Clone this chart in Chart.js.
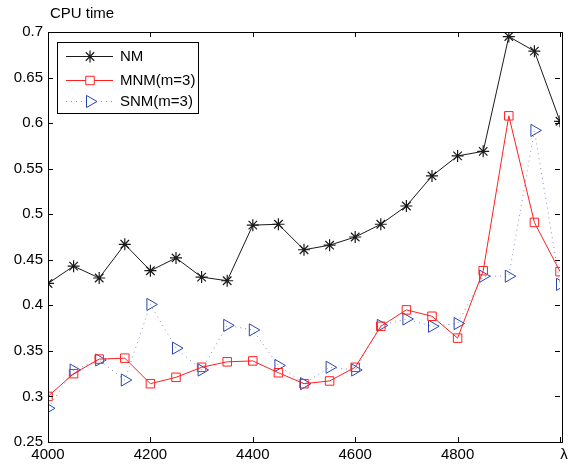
<!DOCTYPE html>
<html>
<head>
<meta charset="utf-8">
<script src="https://cdn.jsdelivr.net/npm/chart.js@4"></script>
<style>
  html, body { margin: 0; padding: 0; background: #fff; }
  #wrap { width: 568px; height: 468px; }
</style>
</head>
<body>
<div id="wrap"><canvas id="myChart" width="568" height="468"></canvas></div>
<script>
// lambda values (x axis)
const lambdas = [4000, 4050, 4100, 4150, 4200, 4250, 4300, 4350, 4400, 4450, 4500,
                 4550, 4600, 4650, 4700, 4750, 4800, 4850, 4900, 4950, 5000];
// CPU time for each method
const nm  = [0.424, 0.443, 0.430, 0.467, 0.438, 0.452, 0.431, 0.427, 0.488, 0.489, 0.461,
             0.466, 0.475, 0.489, 0.509, 0.542, 0.564, 0.569, 0.695, 0.679, 0.602];
const mnm = [0.300, 0.325, 0.341, 0.342, 0.314, 0.321, 0.332, 0.338, 0.339, 0.326, 0.314,
             0.317, 0.332, 0.377, 0.395, 0.388, 0.364, 0.438, 0.608, 0.491, 0.437];
const snm = [0.287, 0.329, 0.340, 0.318, 0.401, 0.353, 0.329, 0.378, 0.373, 0.334, 0.314,
             0.332, 0.329, 0.378, 0.385, 0.377, 0.380, 0.432, 0.432, 0.592, 0.423];
const seriesNames = ['NM', 'MNM(m=3)', 'SNM(m=3)'];
const yTicks = [0.25, 0.3, 0.35, 0.4, 0.45, 0.5, 0.55, 0.6, 0.65, 0.7];
const xTicks = [4000, 4200, 4400, 4600, 4800, 5000];

const FONT = 'Liberation Sans, Arial, Helvetica, sans-serif';

function pts(ys){
    return ys.map((y, i) => ({x: lambdas[i], y: y}));
}

// frame, inward ticks, axis titles and legend, MATLAB style
const matlabFrame = {
    id: 'matlabFrame',
    afterDraw(chart){
        const ctx = chart.ctx;
        const a = chart.chartArea;
        const xs = chart.scales.x, ys = chart.scales.y;
        ctx.save();
        ctx.strokeStyle = '#000';
        ctx.lineWidth = 1;
        ctx.strokeRect(a.left + 0.5, a.top + 0.5, a.right - a.left + 2, a.bottom - a.top);
        ctx.beginPath();
        yTicks.forEach(v => {
            const p = Math.round(ys.getPixelForValue(v)) + 0.5;
            ctx.moveTo(a.left, p); ctx.lineTo(a.left + 5, p);
            ctx.moveTo(a.right, p); ctx.lineTo(a.right - 5, p);
        });
        xTicks.forEach(v => {
            const p = Math.round(xs.getPixelForValue(v)) + 0.5;
            ctx.moveTo(p, a.bottom); ctx.lineTo(p, a.bottom - 5);
            ctx.moveTo(p, a.top); ctx.lineTo(p, a.top + 5);
        });
        ctx.stroke();

        ctx.fillStyle = '#000';
        ctx.font = '15px ' + FONT;
        ctx.textBaseline = 'middle';
        ctx.textAlign = 'left';
        ctx.fillText('CPU time', 50, 14);
        ctx.textAlign = 'center';
        ctx.fillText('λ', 564, 455);

        // legend box
        const lx = 57, ly = 42, lw = 141, lh = 71;
        ctx.fillStyle = '#fff';
        ctx.fillRect(lx, ly, lw, lh);
        ctx.strokeStyle = '#000';
        ctx.strokeRect(lx + 0.5, ly + 0.5, lw, lh);
        const rows = [56, 80, 101];
        chart.data.datasets.forEach((ds, i) => {
            const y = rows[i] + 0.5;
            ctx.save();
            ctx.strokeStyle = ds.borderColor;
            ctx.lineWidth = ds.borderWidth;
            ctx.setLineDash(ds.borderDash || []);
            ctx.beginPath();
            ctx.moveTo(66, y); ctx.lineTo(113, y);
            ctx.stroke();
            ctx.restore();

            ctx.save();
            ctx.strokeStyle = ds.pointBorderColor;
            ctx.fillStyle = ds.pointStyle === 'star' ? ds.pointBorderColor : '#fff';
            ctx.lineWidth = ds.pointBorderWidth;
            Chart.helpers.drawPoint(ctx, {
                pointStyle: ds.pointStyle,
                rotation: ds.pointRotation || 0,
                radius: ds.pointRadius,
                borderWidth: ds.pointBorderWidth
            }, 90, y);
            ctx.restore();

            ctx.fillStyle = '#000';
            ctx.textAlign = 'left';
            ctx.fillText(ds.label, 120, y + 0.5);
        });
        ctx.restore();
    }
};

new Chart(document.getElementById('myChart').getContext('2d'), {
    type: 'line',
    data: {
        datasets: [
            {
                label: seriesNames[0],
                data: pts(nm),
                borderColor: '#1a1a1a',
                borderWidth: 1,
                pointStyle: 'star',
                pointRadius: 6,
                pointBorderColor: '#1a1a1a',
                pointBackgroundColor: '#1a1a1a',
                pointBorderWidth: 1.2,
                tension: 0
            },
            {
                label: seriesNames[1],
                data: pts(mnm),
                borderColor: '#ff2020',
                borderWidth: 1,
                pointStyle: 'rect',
                pointRadius: 6,
                pointBorderColor: '#ff2020',
                pointBackgroundColor: 'rgba(255,255,255,0)',
                pointBorderWidth: 1,
                tension: 0
            },
            {
                label: seriesNames[2],
                data: pts(snm),
                borderColor: '#7f8fd0',
                borderWidth: 1,
                borderDash: [1, 4],
                pointStyle: 'triangle',
                pointRotation: 90,
                pointRadius: 7,
                pointBorderColor: '#2a45b0',
                pointBackgroundColor: 'rgba(255,255,255,0)',
                pointBorderWidth: 1,
                tension: 0
            }
        ]
    },
    options: {
        responsive: false,
        animation: false,
        layout: { padding: { top: 32, right: 0, left: 0, bottom: 0 } },
        plugins: { legend: { display: false }, tooltip: { enabled: false } },
        scales: {
            x: {
                type: 'linear',
                min: 4000, max: 5000,
                grid: { display: false, drawTicks: false },
                border: { display: false },
                afterFit(s){ s.height = 26; },
                afterBuildTicks(s){ s.ticks = xTicks.map(v => ({value: v})); },
                ticks: {
                    color: '#000',
                    font: { family: FONT, size: 15 },
                    padding: 4,
                    maxRotation: 0,
                    callback: v => (v === 5000 ? '' : String(v))
                }
            },
            y: {
                min: 0.25, max: 0.7,
                grid: { display: false, drawTicks: false },
                border: { display: false },
                afterFit(s){ s.width = 48; },
                afterBuildTicks(s){ s.ticks = yTicks.map(v => ({value: v})); },
                ticks: {
                    color: '#000',
                    font: { family: FONT, size: 15 },
                    padding: 5,
                    callback: v => String(parseFloat(v.toFixed(2)))
                }
            }
        }
    },
    plugins: [matlabFrame]
});
</script>
</body>
</html>
